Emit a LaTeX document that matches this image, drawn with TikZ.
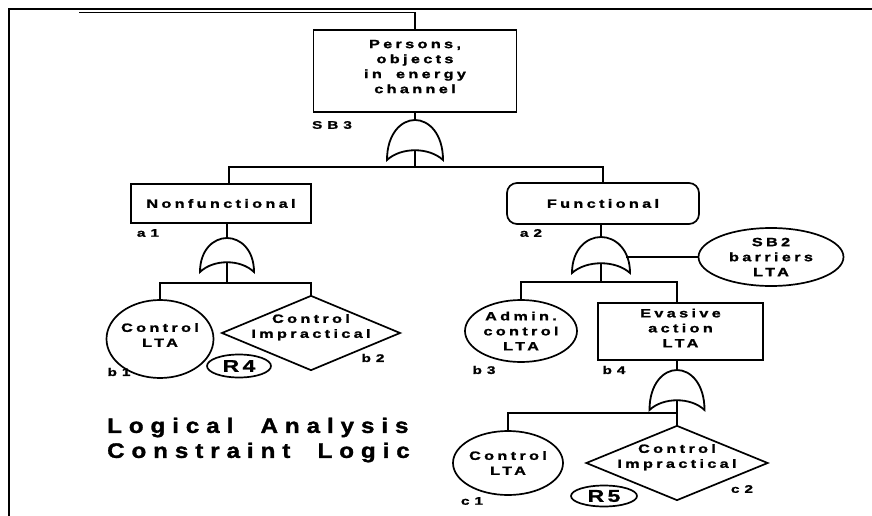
\documentclass[tikz,border=0pt]{standalone}
\usepackage{fontspec}
\setmainfont{Liberation Sans}
\newfontfamily\trk{Liberation Sans Bold}[FakeStretch=1.35,LetterSpace=28,WordSpace=1.8,FakeBold=1.5]
\newfontfamily\tagfont{Liberation Sans Bold}[FakeStretch=1.4,LetterSpace=45,FakeBold=1.5]
\newfontfamily\reffont{Liberation Sans Bold}[FakeStretch=1.35,LetterSpace=20,FakeBold=1.2]
\newfontfamily\ttlfont{Liberation Sans Bold}[FakeStretch=1.15,LetterSpace=33,WordSpace=2,FakeBold=1.5]
\usetikzlibrary{shapes.geometric,calc}

\tikzset{
  pics/orgate/.style n args={2}{code={
    \draw[line width=1.8pt, fill=white]
      (-#1/2,#2) .. controls (-#1/2,0.35*#2) and (-#1/4,0) .. (0,0)
      .. controls (#1/4,0) and (#1/2,0.35*#2) .. (#1/2,#2)
      .. controls (#1/4,#2-13) and (-#1/4,#2-13) .. cycle;
    \coordinate (-top) at (0,0);
    \coordinate (-in) at (0,#2-9.75);
  }},
}

\begin{document}
\begin{tikzpicture}[x=1pt,y=-1pt,
  every node/.style={font=\trk\fontsize{12}{15}\selectfont, align=center, inner sep=0pt},
  blk/.style={draw, line width=1.7pt},
  rblk/.style={blk, rounded corners=10pt},
  oval/.style={draw, ellipse, line width=1.7pt, inner xsep=-5pt},
  dia/.style={draw, diamond, aspect=2.4, line width=1.7pt, inner xsep=-7pt, inner ysep=-3.5pt, text depth=14pt},
  tag/.style={font=\tagfont\fontsize{11}{13}\selectfont},
  ref/.style={draw, ellipse, line width=1.7pt, inner xsep=-4pt, inner ysep=-1pt, font=\reffont\fontsize{17}{19}\selectfont},
  wire/.style={line width=1.5pt},
]
\useasboundingbox (0,0) rectangle (872,516);

% outer frame
\draw[line width=2pt] (8.5,516) -- (8.5,9) -- (872,9);

% events
\node[blk, minimum width=203pt, minimum height=82pt, text depth=9pt] (top) at (415,71) {Persons,\\objects\\in energy\\channel};
\node[blk, minimum width=180pt, minimum height=39pt] (nf) at (221,203.5) {Nonfunctional};
\node[rblk, minimum width=192pt, minimum height=41pt] (fn) at (603,203.5) {Functional};
\node[oval, minimum width=107pt, minimum height=78pt, text depth=8pt] (b1) at (160,339) {Control\\LTA};
\node[dia, minimum width=178pt, minimum height=75pt] (b2) at (311,333) {Control\\Impractical};
\node[oval, minimum width=112pt, minimum height=62pt, inner ysep=-2pt] (b3) at (521,331) {Admin.\\control\\LTA};
\node[blk, minimum width=165pt, minimum height=57pt, text depth=7pt] (b4) at (680.5,331.5) {Evasive\\action\\LTA};
\node[oval, minimum width=145pt, minimum height=58pt, inner ysep=-2pt] (sb2) at (771,257) {SB2\\barriers\\LTA};
\node[oval, minimum width=110pt, minimum height=64pt] (c1) at (508,463) {Control\\LTA};
\node[dia, minimum width=182pt, minimum height=75pt] (c2) at (677,463) {Control\\Impractical};
\node[ref, minimum width=64pt, minimum height=23pt] (r4) at (239,366) {R4};
\node[ref, minimum width=66pt, minimum height=21pt] (r5) at (604,496) {R5};

% event labels
\node[tag] (lsb3) at (332,125) {SB3};
\node[tag] (la1) at (148,233) {a1};
\node[tag] (la2) at (531,233) {a2};
\node[tag] (lb1) at (119,372) {b1};
\node[tag] (lb2) at (373,358) {b2};
\node[tag] (lb3) at (484,370) {b3};
\node[tag] (lb4) at (614,370) {b4};
\node[tag] (lc1) at (472,501) {c1};
\node[tag] (lc2) at (742,489) {c2};

% title
\node[anchor=west, align=left, font=\ttlfont\fontsize{21}{25}\selectfont] (title) at (107,440) {Logical Analysis\\Constraint Logic};

% gates
\pic (g0) at (415,120) {orgate={56}{40}};
\pic (g1) at (227,238) {orgate={54}{34}};
\pic (g2) at (601,237) {orgate={58}{36}};
\pic (g3) at (677,370) {orgate={55}{40}};

% junctions
\coordinate (t0) at (79,12.5);
\coordinate (j0) at (415,167);
\coordinate (j1) at (227,283);
\coordinate (j2) at (601,282);
\coordinate (j3) at (677,413);

% connectors
\draw[wire] (t0) -| (top.north);
\draw[wire] (top.south) -- (g0-top);
\draw[wire] (g0-in) -- (j0);
\draw[wire] (j0) -| ([xshift=8pt]nf.north);
\draw[wire] (j0) -| (fn.north);
\draw[wire] (nf.south -| g1-top) -- (g1-top);
\draw[wire] (g1-in) -- (j1);
\draw[wire] (j1) -| (b1.north);
\draw[wire] (j1) -| (b2.north);
\draw[wire] (fn.south -| g2-top) -- (g2-top);
\draw[wire] (g2-in) -- (j2);
\draw[wire] (j2) -| (b3.north);
\draw[wire] (j2) -| ([xshift=-3.5pt]b4.north);
\draw[wire] (sb2.west) -- ++(-72,0);
\draw[wire] (b4.south -| g3-top) -- (g3-top);
\draw[wire] (g3-in) -- (c2.north);
\draw[wire] (j3) -| (c1.north);
\end{tikzpicture}
\end{document}
